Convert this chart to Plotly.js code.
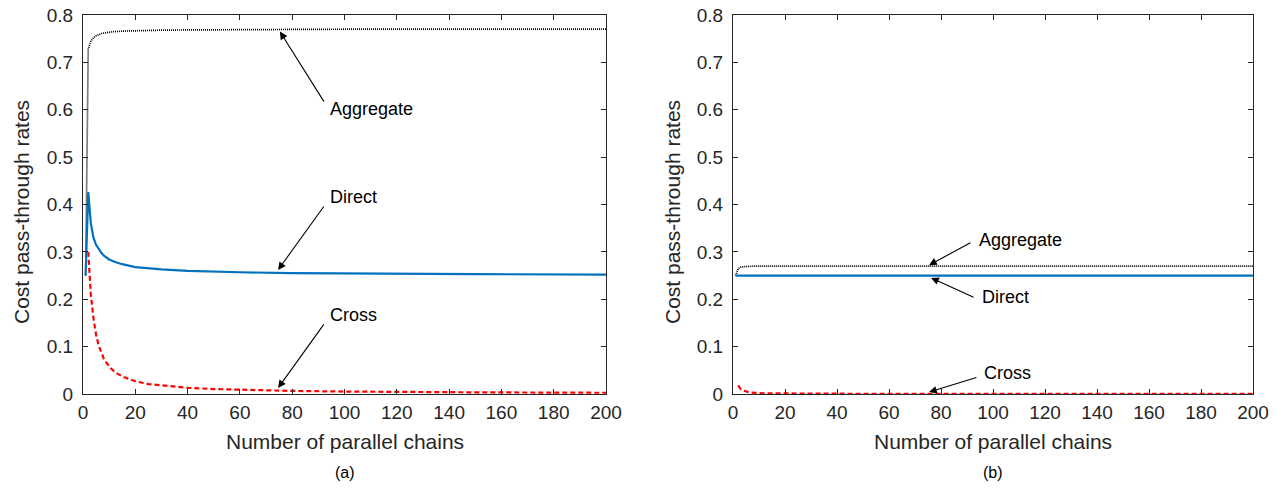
<!DOCTYPE html>
<html>
<head>
<meta charset="utf-8">
<script src="https://cdn.plot.ly/plotly-3.0.1.min.js"></script>
<style>html,body{margin:0;padding:0;background:#fff;}#chart{width:1276px;height:491px;}</style>
</head>
<body>
<div id="chart"></div>
<script>
// Number of parallel chains (x values)
const chains = [1,2,3,4,5,6,7,8,10,12,15,20,25,30,40,50,60,80,100,120,150,200];

// Panel (a)
const directA    = [0.250,0.426,0.360,0.330,0.315,0.305,0.298,0.292,0.284,0.279,0.274,0.268,0.265,0.263,0.260,0.258,0.257,0.255,0.254,0.2535,0.253,0.252];
const crossA     = [null,0.300,0.210,0.160,0.125,0.102,0.086,0.074,0.058,0.047,0.037,0.027,0.021,0.018,0.013,0.0105,0.0087,0.0065,0.0052,0.0043,0.0035,0.0026];
const aggregateA = [0.250,0.728,0.745,0.752,0.756,0.759,0.761,0.762,0.764,0.765,0.766,0.767,0.7675,0.768,0.7685,0.769,0.769,0.7695,0.770,0.770,0.770,0.770];

// Panel (b)
const directB    = [0.250,0.250,0.250,0.250,0.250,0.250,0.250,0.250,0.250,0.250,0.250,0.250,0.250,0.250,0.250,0.250,0.250,0.250,0.250,0.250,0.250,0.250];
const crossB     = [null,0.018,0.010,0.007,0.005,0.004,0.003,0.0025,0.002,0.0016,0.0013,0.001,0.0008,0.0007,0.0005,0.0004,0.0003,0.00025,0.0002,0.00016,0.00013,0.0001];
const aggregateB = [0.250,0.265,0.268,0.269,0.2693,0.2695,0.2697,0.2698,0.2699,0.270,0.270,0.270,0.270,0.270,0.270,0.270,0.270,0.270,0.270,0.270,0.270,0.270];

const seriesNames = ['Aggregate','Direct','Cross'];
const xTickVals = [0,20,40,60,80,100,120,140,160,180,200];
const yTickVals = [0,0.1,0.2,0.3,0.4,0.5,0.6,0.7,0.8];
const panelLabels = ['(a)','(b)'];
const xTitle = 'Number of parallel chains';
const yTitle = 'Cost pass-through rates';

const FONT = 'Liberation Sans, Arial, sans-serif';
const AX = '#262626';

function lines(xa, ya, agg, dir, cr) {
  return [
    {x: chains, y: agg, xaxis: xa, yaxis: ya, mode: 'lines', name: seriesNames[0],
     line: {color: '#000000', width: 1.7, dash: '1px,1px'}},
    {x: chains, y: dir, xaxis: xa, yaxis: ya, mode: 'lines', name: seriesNames[1],
     line: {color: '#0072BD', width: 2.2}},
    {x: chains, y: cr, xaxis: xa, yaxis: ya, mode: 'lines', name: seriesNames[2],
     line: {color: '#FF0000', width: 2.2, dash: '5px,3px'}, connectgaps: false}
  ];
}

const data = [].concat(
  lines('x', 'y', aggregateA, directA, crossA),
  lines('x2', 'y2', aggregateB, directB, crossB)
);

function xaxis(domain, anchor) {
  return {domain: domain, anchor: anchor, range: [0, 200], tickvals: xTickVals,
    ticks: 'inside', ticklen: 5, tickcolor: AX, showline: true, linecolor: AX, linewidth: 1,
    mirror: 'ticks', showgrid: false, zeroline: false, ticklabelstandoff: 1,
    tickfont: {family: FONT, size: 19, color: AX}};
}
function yaxis(anchor) {
  return {domain: [0, 1], anchor: anchor, range: [0, 0.8], tickvals: yTickVals,
    ticks: 'inside', ticklen: 5, tickcolor: AX, showline: true, linecolor: AX, linewidth: 1,
    mirror: 'ticks', showgrid: false, zeroline: false, ticklabelstandoff: 5,
    tickfont: {family: FONT, size: 19, color: AX}};
}

const W = 1276;
const dA = [83 / W, 606 / W];
const dB = [733 / W, 1253 / W];

const tf = {family: FONT, size: 18, color: '#000'};
function label(xr, yr, x, y, t) {
  return {xref: xr, yref: yr, x: x, y: y, text: t, showarrow: false, xanchor: 'left', yanchor: 'middle', font: tf};
}
function arrow(xr, yr, x, y, ax, ay) {
  return {xref: xr, yref: yr, x: x, y: y, axref: xr, ayref: yr, ax: ax, ay: ay, text: '',
    showarrow: true, arrowhead: 2, arrowsize: 1.4, arrowwidth: 1.1, arrowcolor: '#000', standoff: 0};
}

const annotations = [
  label('x', 'y', 93.7, 0.602, seriesNames[0]),
  label('x', 'y', 93.7, 0.416, seriesNames[1]),
  label('x', 'y', 93.7, 0.167, seriesNames[2]),
  arrow('x', 'y', 75.3, 0.765, 92.5, 0.614),
  arrow('x', 'y', 74.6, 0.262, 92.5, 0.399),
  arrow('x', 'y', 74.6, 0.0127, 92.5, 0.150),
  label('x2', 'y2', 93.8, 0.325, seriesNames[0]),
  label('x2', 'y2', 95.0, 0.205, seriesNames[1]),
  label('x2', 'y2', 95.8, 0.044, seriesNames[2]),
  arrow('x2', 'y2', 75.4, 0.272, 91.9, 0.321),
  arrow('x2', 'y2', 76.2, 0.245, 93.1, 0.203),
  arrow('x2', 'y2', 75.4, 0.004, 94.2, 0.036),
  // axis titles and panel labels
  {xref: 'paper', yref: 'paper', x: (dA[0] + dA[1]) / 2, y: (394 - 441) / 379, text: xTitle, showarrow: false,
   xanchor: 'center', yanchor: 'middle', font: {family: FONT, size: 21, color: AX}},
  {xref: 'paper', yref: 'paper', x: (dB[0] + dB[1]) / 2, y: (394 - 441) / 379, text: xTitle, showarrow: false,
   xanchor: 'center', yanchor: 'middle', font: {family: FONT, size: 21, color: AX}},
  {xref: 'paper', yref: 'paper', x: 21 / W, y: (394 - 212) / 379, text: yTitle, showarrow: false, textangle: -90,
   xanchor: 'center', yanchor: 'middle', font: {family: FONT, size: 21, color: AX}},
  {xref: 'paper', yref: 'paper', x: 672 / W, y: (394 - 212) / 379, text: yTitle, showarrow: false, textangle: -90,
   xanchor: 'center', yanchor: 'middle', font: {family: FONT, size: 21, color: AX}},
  {xref: 'paper', yref: 'paper', x: (dA[0] + dA[1]) / 2, y: (394 - 472) / 379, text: panelLabels[0], showarrow: false,
   xanchor: 'center', yanchor: 'middle', font: {family: FONT, size: 16, color: '#000'}},
  {xref: 'paper', yref: 'paper', x: (dB[0] + dB[1]) / 2, y: (394 - 472) / 379, text: panelLabels[1], showarrow: false,
   xanchor: 'center', yanchor: 'middle', font: {family: FONT, size: 16, color: '#000'}}
];

const layout = {
  width: 1276, height: 491,
  margin: {l: 0, r: 0, t: 15, b: 97},
  paper_bgcolor: '#fff', plot_bgcolor: '#fff',
  showlegend: false,
  xaxis: xaxis(dA, 'y'),
  yaxis: yaxis('x'),
  xaxis2: xaxis(dB, 'y2'),
  yaxis2: yaxis('x2'),
  annotations: annotations,
  font: {family: FONT}
};

Plotly.newPlot('chart', data, layout, {staticPlot: true, displayModeBar: false});
</script>
</body>
</html>
